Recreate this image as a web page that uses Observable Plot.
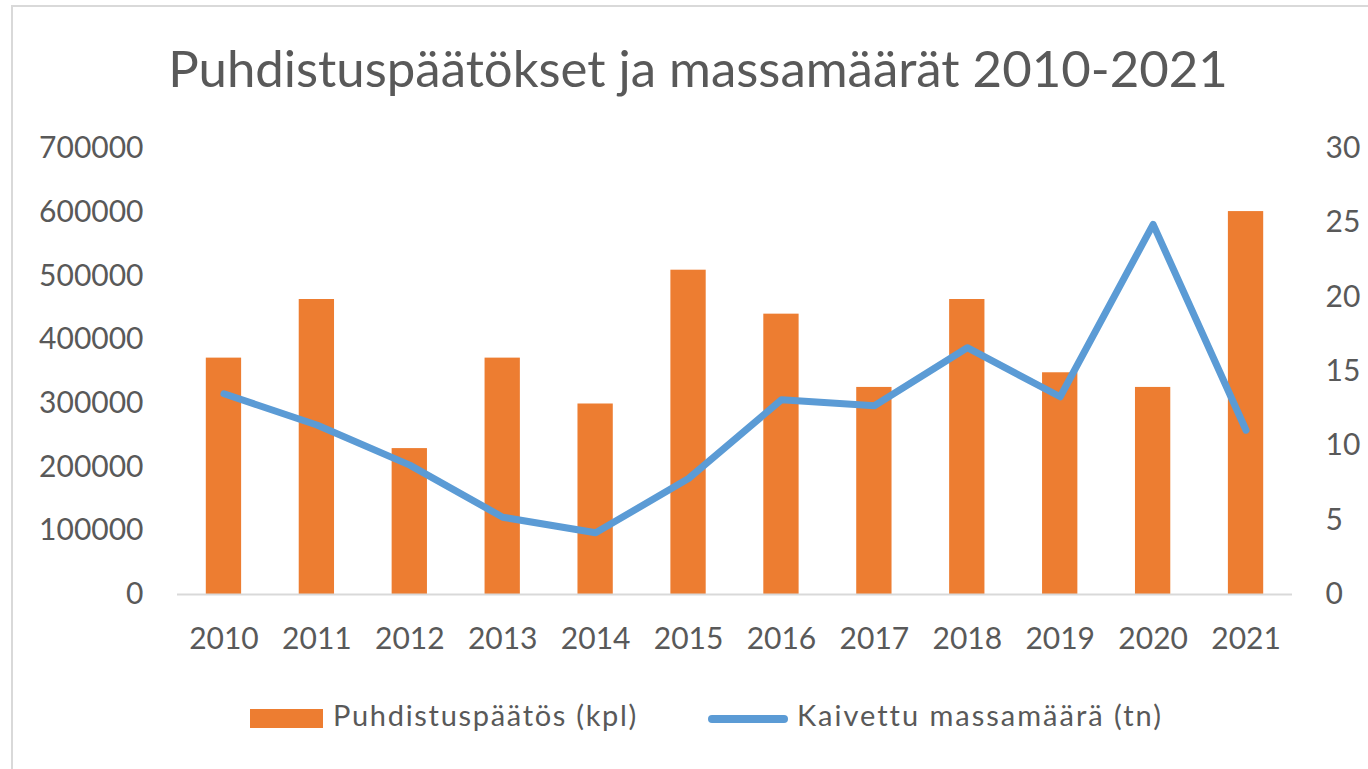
<!DOCTYPE html>
<html>
<head>
<meta charset="utf-8">
<script src="https://cdn.jsdelivr.net/npm/d3@7"></script>
<script src="https://cdn.jsdelivr.net/npm/@observablehq/plot@0.6"></script>
<style>
  html, body { margin: 0; padding: 0; background: #ffffff; }
  #wrap { position: relative; width: 1368px; height: 769px; overflow: hidden; font-family: Lato, sans-serif; color: #595959; }
  #frame { position: absolute; left: 11px; top: 5px; width: 1400px; height: 800px; border-left: 2px solid #d9d9d9; border-top: 2px solid #d9d9d9; box-sizing: border-box; }
  #title { position: absolute; top: 45px; left: 698px; transform: translateX(-50%); white-space: nowrap; font-size: 48px; line-height: 1; }
  #chart { position: absolute; left: 0; top: 120px; }
  .leg { position: absolute; white-space: nowrap; font-size: 29px; line-height: 1; }
  .sw-bar { position: absolute; left: 250px; top: 709px; width: 73px; height: 19px; background: #ED7D31; }
  .sw-line { position: absolute; left: 708px; top: 715px; width: 80px; height: 8px; border-radius: 4px; background: #5B9BD5; }
</style>
</head>
<body>
<div id="wrap">
  <div id="frame"></div>
  <div id="title">Puhdistuspäätökset ja massamäärät 2010-2021</div>
  <div id="chart"></div>
  <div class="sw-bar"></div>
  <div class="leg" id="leg1" style="left:333px; top:700px;">Puhdistuspäätös (kpl)</div>
  <div class="sw-line"></div>
  <div class="leg" id="leg2" style="left:797px; top:700px;">Kaivettu massamäärä (tn)</div>
</div>
<script>
const years = ["2010","2011","2012","2013","2014","2015","2016","2017","2018","2019","2020","2021"];
const decisions = [371000, 463000, 229000, 371000, 299000, 509000, 440000, 325000, 463000, 348000, 325000, 601000];
const mass = [13.5, 11.4, 8.7, 5.2, 4.15, 7.8, 13.1, 12.7, 16.6, 13.3, 24.9, 11.05];
const leftTicks = [0, 100000, 200000, 300000, 400000, 500000, 600000, 700000];
const rightTicks = [0, 5, 10, 15, 20, 25, 30];
const leftMax = 700000, rightMax = 30;
const k = leftMax / rightMax;

const rows = years.map((y, i) => ({year: y, decisions: decisions[i], mass: mass[i], massScaled: mass[i] * k}));

const chart = Plot.plot({
  width: 1368,
  height: 550,
  marginTop: 28,
  marginBottom: 76,
  marginLeft: 177,
  marginRight: 76,
  style: {fontFamily: "Lato, sans-serif", fontSize: "30px", color: "#595959", background: "transparent"},
  x: {domain: years, paddingInner: 0.62, paddingOuter: 0.31, round: false, label: null},
  y: {domain: [0, leftMax], label: null},
  marks: [
    Plot.barY(rows, {x: "year", y: "decisions", fill: "#ED7D31"}),
    Plot.ruleY([0], {stroke: "#d9d9d9", strokeWidth: 2}),
    Plot.line(rows, {x: "year", y: "massScaled", stroke: "#5B9BD5", strokeWidth: 7, strokeLinejoin: "round", strokeLinecap: "round"}),
    Plot.axisX({tickSize: 0, tickPadding: 33, label: null}),
    Plot.axisY({anchor: "left", ticks: leftTicks, tickFormat: d => String(d), tickSize: 0, tickPadding: 34, label: null}),
    Plot.axisY({anchor: "right", ticks: rightTicks.map(v => v * k), tickFormat: d => String(Math.round(d / k)), tickSize: 0, tickPadding: 33, label: null})
  ]
});
document.getElementById("chart").appendChild(chart);

// title: scale font size so its width matches the reference, keep baseline
(function () {
  const el = document.getElementById("title");
  const w = el.getBoundingClientRect().width;
  const fs = 48 * 1060 / w;
  el.style.fontSize = fs + "px";
  el.style.top = (88 - 0.887 * fs) + "px";
})();

// legend: fit text widths to the reference
function fit(id, target) {
  const el = document.getElementById(id);
  const w = el.getBoundingClientRect().width;
  const n = el.textContent.length;
  el.style.letterSpacing = ((target - w) / n) + "px";
}
fit("leg1", 305);
fit("leg2", 365);
</script>
</body>
</html>
